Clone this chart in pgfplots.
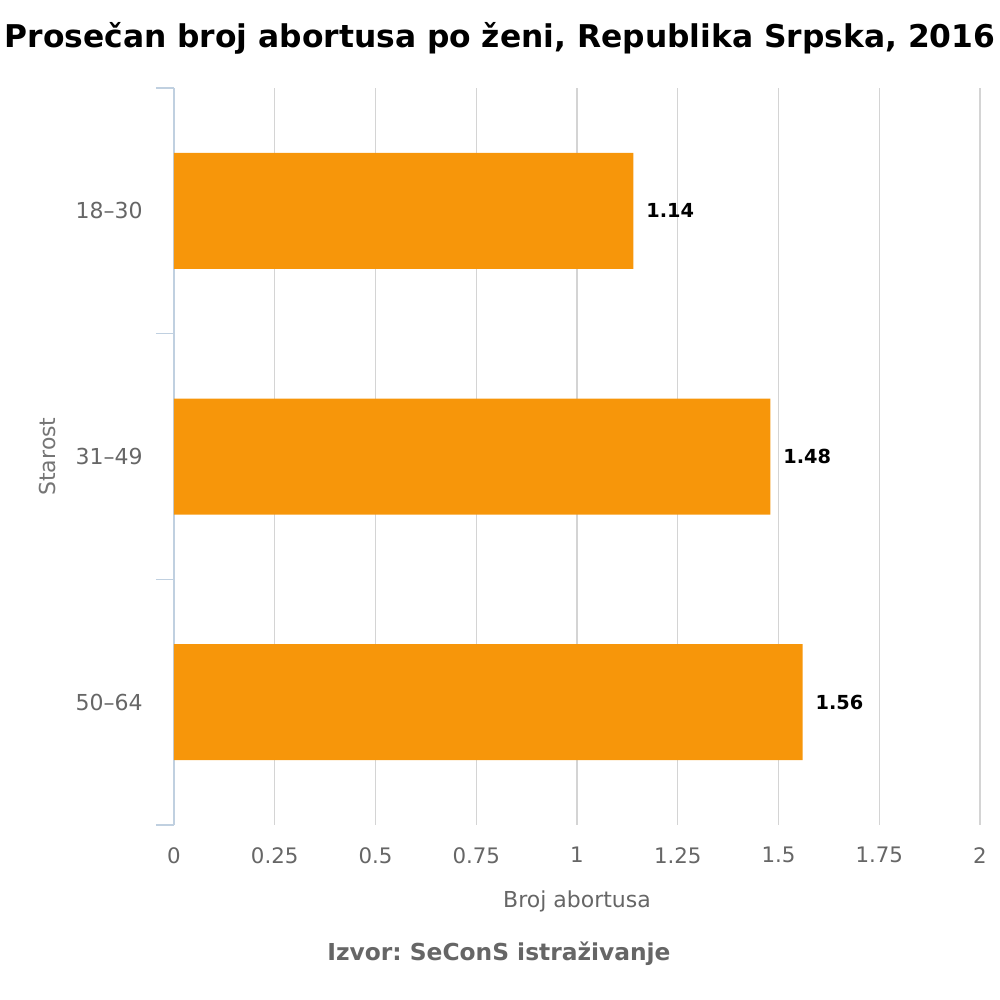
\documentclass[border=0pt]{standalone}
\usepackage{fontspec}
\setmainfont{DejaVu Sans}
\usepackage{pgfplots}
\pgfplotsset{compat=1.18}
\definecolor{barorange}{HTML}{F7960A}
\definecolor{axisblue}{HTML}{C0D0E0}
\definecolor{gridgray}{HTML}{D4D4D4}
\definecolor{textgray}{HTML}{666666}
\frenchspacing
\begin{document}
\begin{tikzpicture}
\useasboundingbox (0,0) rectangle (750pt,750pt);
\node[anchor=base, font=\fontsize{23.5}{28}\selectfont\bfseries, text=black] at (375pt,714pt) {Prosečan broj abortusa po ženi, Republika Srpska, 2016};
\node[anchor=base, font=\fontsize{17.5}{21}\selectfont\bfseries, text=textgray] at (374.25pt,29.25pt) {Izvor: SeConS istraživanje};
\begin{axis}[
  at={(130.5pt,131.25pt)}, anchor=south west,
  scale only axis, width=604.5pt, height=552.75pt,
  xbar, bar width=87pt,
  xmin=0, xmax=2,
  ymin=-0.5, ymax=2.5, y dir=reverse,
  xtick={0,0.25,0.5,0.75,1,1.25,1.5,1.75,2},
  xticklabels={0,0.25,0.5,0.75,1,1.25,1.5,1.75,2},
  ytick={0,1,2},
  yticklabels={18--30,31--49,50--64},
  minor ytick={-0.5,0.5,1.5,2.5},
  axis x line*=bottom, axis y line*=left,
  x axis line style={draw=none},
  y axis line style={draw=axisblue, line width=0.9pt},
  major tick length=0pt,
  minor tick length=13.5pt,
  tick align=outside,
  xtick style={draw=none},
  ytick style={draw=axisblue, line width=0.9pt},
  minor tick style={draw=axisblue, line width=0.9pt},
  xmajorgrids, grid style={draw=gridgray, line width=1pt},
  xticklabel style={font=\fontsize{16}{19}\selectfont, text=textgray, inner sep=0pt, anchor=north, yshift=-16.5pt},
  yticklabel style={font=\fontsize{16.5}{19}\selectfont, text=textgray, inner sep=0pt, anchor=east, xshift=-23.25pt},
  xlabel={Broj abortusa},
  ylabel={Starost},
  xlabel style={font=\fontsize{16.5}{19}\selectfont, text=textgray, at={(axis description cs:0.5,-0.1126)}, anchor=base},
  ylabel style={font=\fontsize{16.5}{19}\selectfont, text=textgray!90, at={(axis description cs:-0.1476,0.5)}, anchor=base},
  nodes near coords,
  nodes near coords style={font=\fontsize{14.5}{17}\selectfont\bfseries, text=black, anchor=west, inner sep=0pt, xshift=9.5pt, /pgf/number format/fixed, /pgf/number format/precision=2, /pgf/number format/assume math mode=true},
]
\addplot[fill=barorange, draw=none] coordinates {(1.14,0) (1.48,1) (1.56,2)};
\end{axis}
\end{tikzpicture}
\end{document}
